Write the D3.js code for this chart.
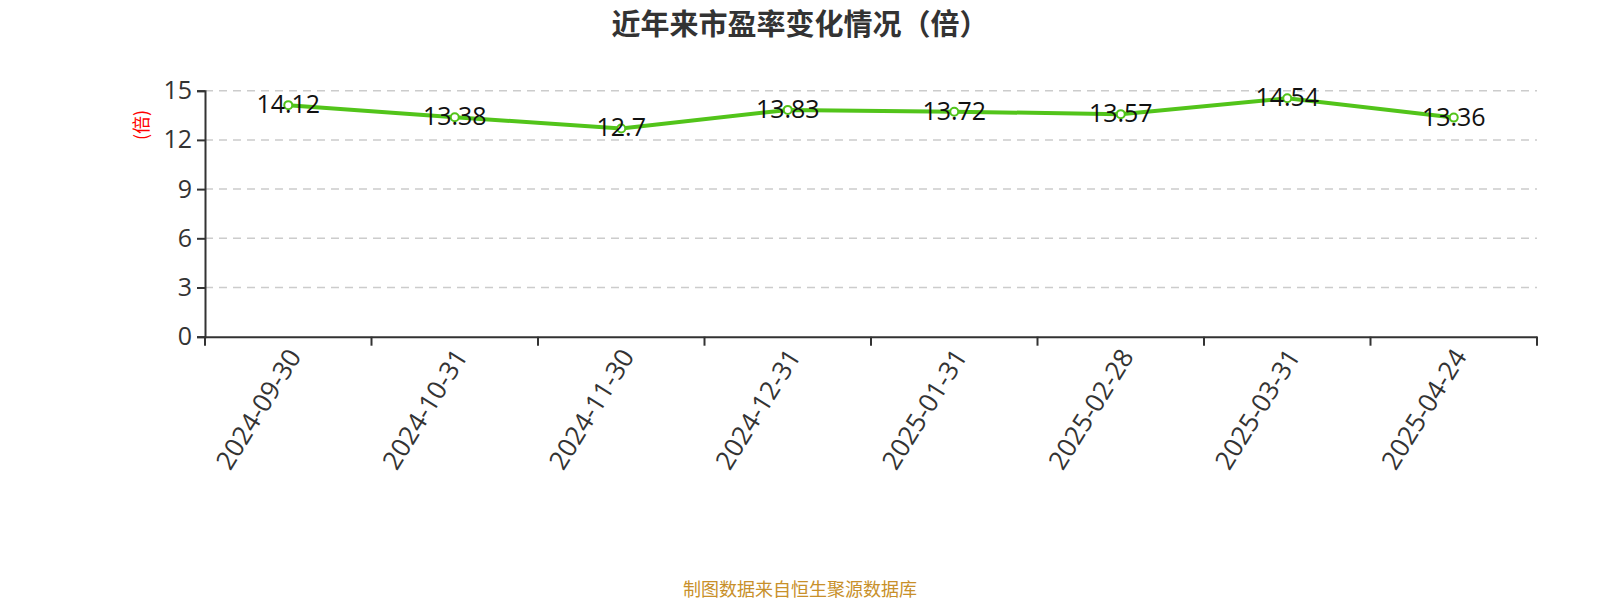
<!DOCTYPE html>
<html><head><meta charset="utf-8">
<script src="https://cdn.jsdelivr.net/npm/d3@7/dist/d3.min.js"></script>
<style>body{margin:0;background:#fff;} svg{display:block;}</style>
</head><body>
<svg id="c" width="1600" height="600"></svg>
<script>
const categories = ["2024-09-30","2024-10-31","2024-11-30","2024-12-31","2025-01-31","2025-02-28","2025-03-31","2025-04-24"];
const peValues = [14.12,13.38,12.7,13.83,13.72,13.57,14.54,13.36];
const yTicks = [0,3,6,9,12,15];
const titleText = "近年来市盈率变化情况（倍）";
const yAxisName = "(倍)";
const sourceText = "制图数据来自恒生聚源数据库";

const font = "'Open Sans','Noto Sans CJK SC',sans-serif";
const svg = d3.select("#c");
const L = 205, R = 1537, T = 90.7, B = 336.7;
const x = d3.scaleBand().domain(categories).range([L, R]);
const y = d3.scaleLinear().domain([0, 15]).range([B, T]);

// title
svg.append("text").attr("x", 800).attr("y", 35).attr("text-anchor", "middle")
  .attr("font-family", "'Noto Sans CJK SC',sans-serif").attr("font-weight", "bold")
  .attr("font-size", 29).attr("fill", "#333").text(titleText);

// grid
svg.append("g").selectAll("line").data(yTicks.filter(d => d > 0)).join("line")
  .attr("x1", L).attr("x2", R).attr("y1", d => y(d)).attr("y2", d => y(d))
  .attr("stroke", "#ccc").attr("stroke-width", 1.5).attr("stroke-dasharray", "8,6");

// y axis
const ya = svg.append("g").attr("transform", `translate(${L},0)`)
  .call(d3.axisLeft(y).tickValues(yTicks).tickSize(8).tickPadding(5));
ya.select(".domain").attr("stroke", "#333").attr("stroke-width", 2);
ya.selectAll(".tick line").attr("stroke", "#333").attr("stroke-width", 2);
ya.selectAll(".tick text").attr("font-family", font).attr("font-size", 25).attr("fill", "#333");

// y axis name
svg.append("text").attr("transform", `translate(143,125) rotate(-90)`)
  .attr("text-anchor", "middle").attr("dominant-baseline", "middle")
  .attr("font-family", "'Noto Sans CJK SC',sans-serif").attr("font-size", 18)
  .attr("fill", "red").text(yAxisName);

// x axis
const xa = svg.append("g").attr("transform", `translate(0,${B})`)
  .call(d3.axisBottom(x).tickSize(0).tickFormat(""));
xa.select(".domain").attr("stroke", "#333").attr("stroke-width", 2);
const tickPos = categories.map(c => x(c)).concat([R]);
svg.append("g").selectAll("line").data(tickPos).join("line")
  .attr("x1", d => d).attr("x2", d => d).attr("y1", B).attr("y2", B + 9)
  .attr("stroke", "#333").attr("stroke-width", 2);
svg.append("g").selectAll("text").data(categories).join("text")
  .attr("transform", d => `translate(${x(d) + x.bandwidth() / 2 + 8},${B + 16}) rotate(-58)`)
  .attr("text-anchor", "end").attr("dominant-baseline", "middle")
  .attr("font-family", font).attr("font-size", 26).attr("fill", "#333").text(d => d);

// line
const pts = categories.map((c, i) => [x(c) + x.bandwidth() / 2, y(peValues[i])]);
svg.append("path").attr("d", d3.line()(pts)).attr("fill", "none")
  .attr("stroke", "#52c41a").attr("stroke-width", 4);
svg.append("g").selectAll("circle").data(pts).join("circle")
  .attr("cx", d => d[0]).attr("cy", d => d[1]).attr("r", 4)
  .attr("fill", "#fff").attr("stroke", "#52c41a").attr("stroke-width", 2);

// labels
svg.append("g").selectAll("text").data(peValues).join("text")
  .attr("x", (d, i) => pts[i][0]).attr("y", (d, i) => pts[i][1] + 8)
  .attr("text-anchor", "middle").attr("font-family", font).attr("font-size", 25)
  .attr("fill", "#111").text(d => d);

// source
svg.append("text").attr("x", 800).attr("y", 596).attr("text-anchor", "middle")
  .attr("font-family", "'Noto Sans CJK SC',sans-serif").attr("font-size", 18)
  .attr("fill", "#c8902a").text(sourceText);
</script>
</body></html>
